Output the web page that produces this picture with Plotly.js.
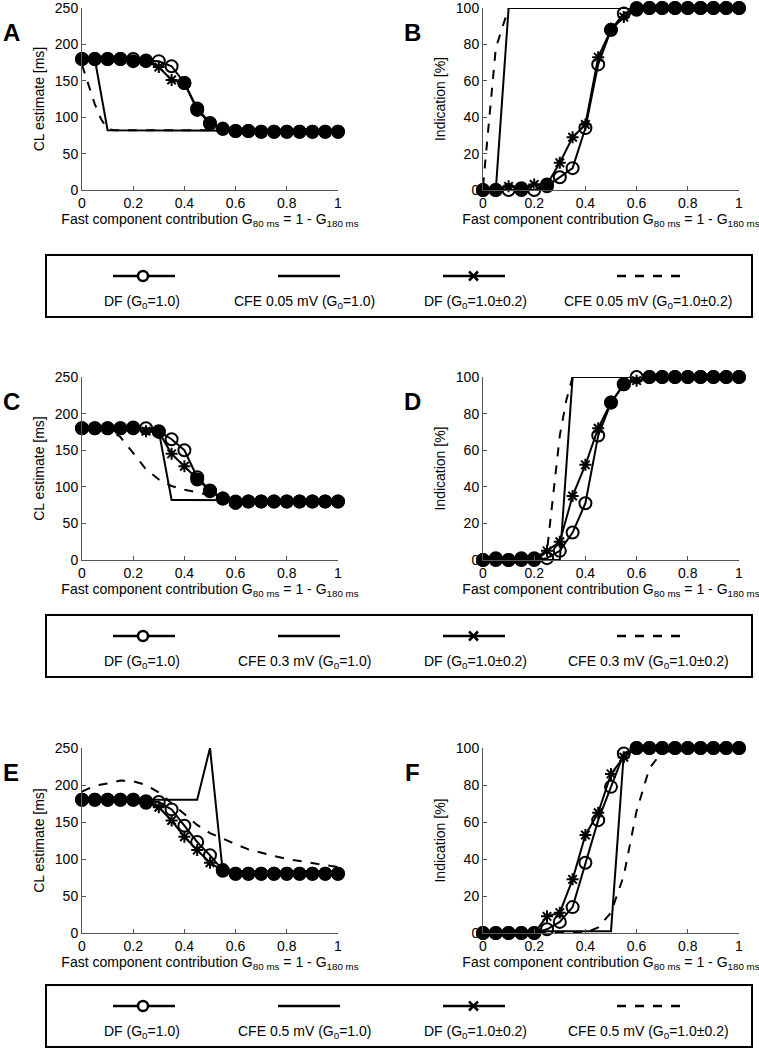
<!DOCTYPE html>
<html>
<head>
<meta charset="utf-8">
<script src="https://cdn.plot.ly/plotly-3.0.1.min.js"></script>
<style>
html, body { margin: 0; padding: 0; background: #fff; }
#plot { width: 759px; height: 1049px; }
</style>
</head>
<body>
<div id="plot"></div>
<script>
// fraction of fast component G80
const x = [0, 0.05, 0.1, 0.15, 0.2, 0.25, 0.3, 0.35, 0.4, 0.45, 0.5, 0.55, 0.6, 0.65, 0.7, 0.75, 0.8, 0.85, 0.9, 0.95, 1];

// A: CL estimate, CFE 0.05 mV
const dfA   = [180, 180, 180, 180, 180, 178, 177, 170, 147, 112, 92, 84, 81, 81, 80, 80, 80, 80, 80, 80, 80];
const dfvA  = [180, 180, 180, 180, 177, 177, 169, 151, 147, 110, 91, 84, 81, 81, 80, 80, 80, 80, 80, 80, 80];
const cfeA  = [180, 180, 82, 82, 82, 82, 82, 82, 82, 82, 82, 82, 81, 81, 81, 81, 81, 81, 81, 81, 81];
const cfevXA = [0, 0.025, 0.05, 0.075, 0.1, 0.125, 1];
const cfevA  = [172, 145, 118, 97, 84, 82, 82];

// B: indication, CFE 0.05 mV
const dfB   = [0, 0, 0, 0, 0, 2, 7, 12, 34, 69, 88, 97, 100, 100, 100, 100, 100, 100, 100, 100, 100];
const dfvB  = [0, 0, 2, 1, 3, 3, 15, 29, 36, 73, 88, 95, 99, 100, 100, 100, 100, 100, 100, 100, 100];
const cfeB  = [0, 0, 100, 100, 100, 100, 100, 100, 100, 100, 100, 100, 100, 100, 100, 100, 100, 100, 100, 100, 100];
const cfevXB = [0, 0.05, 0.1, 1];
const cfevB  = [2, 78, 100, 100];

// C: CL estimate, CFE 0.3 mV
const dfC   = [180, 180, 180, 180, 181, 180, 176, 165, 150, 113, 95, 84, 78, 80, 80, 80, 80, 80, 80, 80, 80];
const dfvC  = [180, 180, 180, 180, 180, 176, 175, 145, 128, 110, 94, 84, 80, 80, 80, 80, 80, 80, 80, 80, 80];
const cfeC  = [180, 180, 180, 180, 180, 180, 176, 82, 82, 82, 82, 82, 81, 81, 81, 81, 81, 81, 81, 81, 81];
const cfevXC = [0, 0.1, 0.15, 0.2, 0.25, 0.3, 0.35, 0.4, 0.45, 0.5, 0.55, 0.6, 1];
const cfevC  = [180, 179, 168, 146, 124, 110, 101, 96, 92, 88, 85, 83, 81];

// D: indication, CFE 0.3 mV
const dfD   = [0, 0, 0, 0, 0, 1, 5, 15, 31, 68, 86, 96, 100, 100, 100, 100, 100, 100, 100, 100, 100];
const dfvD  = [0, 1, 0, 1, 1, 5, 10, 35, 52, 72, 86, 96, 98, 100, 100, 100, 100, 100, 100, 100, 100];
const cfeD  = [0, 0, 0, 0, 0, 0, 0, 100, 100, 100, 100, 100, 100, 100, 100, 100, 100, 100, 100, 100, 100];
const cfevXD = [0, 0.2, 0.25, 0.275, 0.3, 0.325, 0.35, 1];
const cfevD  = [0, 0, 5, 38, 68, 87, 100, 100];

// E: CL estimate, CFE 0.5 mV
const dfE   = [180, 180, 180, 180, 180, 178, 177, 167, 145, 123, 105, 85, 80, 80, 80, 80, 80, 80, 80, 80, 80];
const dfvE  = [180, 180, 180, 180, 180, 176, 170, 152, 130, 112, 95, 84, 80, 80, 80, 80, 80, 80, 80, 80, 80];
const cfeE  = [180, 180, 180, 180, 180, 180, 180, 180, 180, 180, 250, 82, 80, 80, 80, 80, 80, 80, 80, 80, 80];
const cfevXE = x;
const cfevE  = [191, 199, 202, 206, 205, 200, 190, 175, 160, 146, 135, 127, 120, 113, 108, 104, 100, 97, 94, 92, 89];

// F: indication, CFE 0.5 mV
const dfF   = [0, 0, 0, 0, 0, 2, 6, 14, 38, 61, 79, 97, 100, 100, 100, 100, 100, 100, 100, 100, 100];
const dfvF  = [0, 0, 0, 0, 0, 9, 11, 29, 53, 65, 86, 95, 100, 100, 100, 100, 100, 100, 100, 100, 100];
const cfeF  = [0, 0, 0, 0, 0, 1, 1, 1, 1, 1, 1, 97, 100, 100, 100, 100, 100, 100, 100, 100, 100];
const cfevXF = [0, 0.4, 0.45, 0.5, 0.55, 0.6, 0.65, 0.7, 1];
const cfevF  = [0, 0, 3, 11, 31, 66, 89, 98, 100];

const panelLetters = ['A', 'B', 'C', 'D', 'E', 'F'];
const cfeLevels = ['0.05', '0.3', '0.5'];
const xTitle = 'Fast component contribution G<sub>80 ms</sub> = 1 - G<sub>180 ms</sub>';
const yTitles = ['CL estimate [ms]', 'Indication [%]'];

// page geometry in pixels
const W = 759, H = 1049;
const cols = [[82, 338], [483, 739]];
const rows = [[8, 190], [377, 560], [748, 933]];
const boxes = [[255, 317], [615, 677], [985, 1047]];
const px = v => v / W;
const py = v => 1 - v / H;

const FONT = 'Liberation Sans, Arial, Helvetica, sans-serif';

const panels = [
    { df: dfA, dfv: dfvA, cfe: cfeA, cx: cfevXA, cv: cfevA, ymax: 250 },
    { df: dfB, dfv: dfvB, cfe: cfeB, cx: cfevXB, cv: cfevB, ymax: 100 },
    { df: dfC, dfv: dfvC, cfe: cfeC, cx: cfevXC, cv: cfevC, ymax: 250 },
    { df: dfD, dfv: dfvD, cfe: cfeD, cx: cfevXD, cv: cfevD, ymax: 100 },
    { df: dfE, dfv: dfvE, cfe: cfeE, cx: cfevXE, cv: cfevE, ymax: 250 },
    { df: dfF, dfv: dfvF, cfe: cfeF, cx: cfevXF, cv: cfevF, ymax: 100 }
];

const traces = [];
const layout = {
    width: W, height: H, autosize: false,
    margin: { l: 0, r: 0, t: 0, b: 0 },
    paper_bgcolor: '#fff', plot_bgcolor: 'rgba(0,0,0,0)',
    showlegend: false,
    font: { family: FONT, color: '#000', size: 14 },
    shapes: [], annotations: []
};

panels.forEach((p, i) => {
    const n = i + 1;
    const xa = 'x' + (n === 1 ? '' : n), ya = 'y' + (n === 1 ? '' : n);
    const col = cols[i % 2], row = rows[Math.floor(i / 2)];
    const common = { xaxis: xa, yaxis: ya, cliponaxis: false, hoverinfo: 'skip' };

    traces.push(Object.assign({ x: x, y: p.cfe, mode: 'lines', line: { color: '#000', width: 2 } }, common));
    traces.push(Object.assign({ x: p.cx, y: p.cv, mode: 'lines', line: { color: '#000', width: 2, dash: 'dash' } }, common));
    traces.push(Object.assign({
        x: x, y: p.df, mode: 'lines+markers', line: { color: '#000', width: 2 },
        marker: { symbol: 'circle-open', size: 12, opacity: 1, color: '#000', line: { color: '#000', width: 2 } }
    }, common));
    // where both DF curves coincide the circle + star merge into a solid disc
    const same = p.dfv.map((v, k) => Math.abs(v - p.df[k]) <= p.ymax * 0.012);
    traces.push(Object.assign({
        x: x, y: p.dfv, mode: 'lines+markers', line: { color: '#000', width: 2 },
        marker: {
            symbol: same.map(s => s ? 'circle' : 'asterisk-open'),
            size: same.map(s => s ? 12 : 10),
            opacity: 1,
            color: '#000', line: { color: '#000', width: 2 }
        }
    }, common));

    layout['xaxis' + (n === 1 ? '' : n)] = {
        domain: [px(col[0]), px(col[1])], range: [0, 1], anchor: ya,
        showline: true, linecolor: '#555', linewidth: 1,
        ticks: 'inside', ticklen: 4, tickcolor: '#555',
        tickvals: [0, 0.2, 0.4, 0.6, 0.8, 1],
        showgrid: false, zeroline: false, fixedrange: true,
        ticklabeloverflow: 'allow',
        tickfont: { size: 14, family: FONT },
        title: { text: xTitle, font: { size: 14, family: FONT }, standoff: 4 }
    };
    layout['yaxis' + (n === 1 ? '' : n)] = {
        domain: [py(row[1]), py(row[0])], range: [0, p.ymax], anchor: xa,
        dtick: p.ymax / 5,
        showline: true, linecolor: '#555', linewidth: 1,
        ticks: 'inside', ticklen: 4, tickcolor: '#555',
        showgrid: false, zeroline: false, fixedrange: true,
        ticklabeloverflow: 'allow',
        tickfont: { size: 14, family: FONT },
        title: { text: yTitles[i % 2], font: { size: 14, family: FONT }, standoff: 6 }
    };

    layout.annotations.push({
        xref: 'paper', yref: 'paper', x: px(i % 2 ? 412 : 11), y: py(row[0] + 24),
        text: '<b>' + panelLetters[i] + '</b>', showarrow: false,
        font: { size: 24, family: FONT }, xanchor: 'center', yanchor: 'middle'
    });
});

// legend boxes, one below each row
boxes.forEach((b, g) => {
    const top = b[0], bottom = b[1];
    const sy = py(top + 21), ty = py(top + 47);
    const S = layout.shapes;
    S.push({ type: 'rect', xref: 'paper', yref: 'paper', x0: px(46), x1: px(752), y0: py(bottom), y1: py(top), line: { color: '#000', width: 2 } });
    S.push({ type: 'line', xref: 'paper', yref: 'paper', x0: px(113), x1: px(175), y0: sy, y1: sy, line: { color: '#000', width: 2.5 } });
    S.push({ type: 'circle', xref: 'paper', yref: 'paper', x0: px(138), x1: px(148), y0: py(top + 26), y1: py(top + 16), fillcolor: '#fff', line: { color: '#000', width: 2.5 } });
    S.push({ type: 'line', xref: 'paper', yref: 'paper', x0: px(278), x1: px(340), y0: sy, y1: sy, line: { color: '#000', width: 2.5 } });
    S.push({ type: 'line', xref: 'paper', yref: 'paper', x0: px(443), x1: px(505), y0: sy, y1: sy, line: { color: '#000', width: 2.5 } });
    S.push({ type: 'line', xref: 'paper', yref: 'paper', x0: px(469), x1: px(478), y0: py(top + 16.5), y1: py(top + 25.5), line: { color: '#000', width: 2.5 } });
    S.push({ type: 'line', xref: 'paper', yref: 'paper', x0: px(469), x1: px(478), y0: py(top + 25.5), y1: py(top + 16.5), line: { color: '#000', width: 2.5 } });
    S.push({ type: 'line', xref: 'paper', yref: 'paper', x0: px(617), x1: px(680), y0: sy, y1: sy, line: { color: '#000', width: 2.5, dash: 'dash' } });

    const lvl = cfeLevels[g];
    const labels = [
        'DF (G<sub>0</sub>=1.0)',
        'CFE ' + lvl + ' mV (G<sub>0</sub>=1.0)',
        'DF (G<sub>0</sub>=1.0±0.2)',
        'CFE ' + lvl + ' mV (G<sub>0</sub>=1.0±0.2)'
    ];
    [142, 304, 475, 648].forEach((cx, k) => {
        layout.annotations.push({
            xref: 'paper', yref: 'paper', x: px(cx), y: ty, text: labels[k],
            showarrow: false, xanchor: 'center', yanchor: 'middle',
            font: { size: 14, family: FONT }
        });
    });
});

Plotly.newPlot('plot', traces, layout, { displayModeBar: false, staticPlot: true });
</script>
</body>
</html>
